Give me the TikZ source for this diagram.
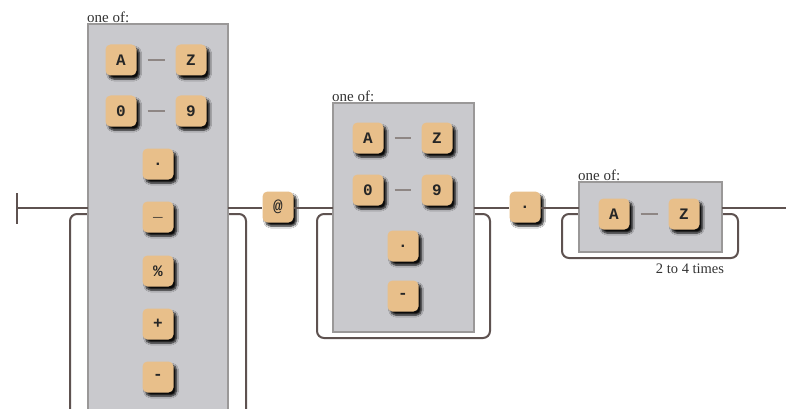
\documentclass[tikz,border=0pt]{standalone}
\usepackage{fontspec}
\setmainfont{Liberation Serif}
\newfontfamily\keyfont{Liberation Mono}
\usetikzlibrary{shadows.blur}
\definecolor{keytan}{HTML}{E8BF8A}
\definecolor{boxgray}{HTML}{C9C9CD}
\definecolor{boxedge}{HTML}{9A9898}
\definecolor{wirec}{HTML}{5E5250}
\begin{document}
\begin{tikzpicture}[x=1pt,y=-1pt,
 key/.style={draw=none, fill=keytan, rounded corners=5pt, minimum width=31pt, minimum height=31pt, inner sep=0pt,
   font=\keyfont\bfseries\fontsize{16}{16}\selectfont, text=black!85,
   blur shadow={shadow xshift=3pt, shadow yshift=-3.5pt, shadow blur steps=6, shadow blur radius=2pt, shadow opacity=95}},
 grp/.style={draw=boxedge, line width=2pt, fill=boxgray},
 wire/.style={draw=wirec, line width=2pt, rounded corners=7pt},
 lbl/.style={font=\fontsize{15}{15}\selectfont, text=black!80, anchor=south west, inner sep=0pt},
 rng/.style={draw=wirec!70, line width=1.8pt, shorten <=11pt, shorten >=10pt}]
\useasboundingbox (0,0) rectangle (786,409);
\clip (0,0) rectangle (786,409);
\fill[white] (0,0) rectangle (786,409);

% coordinates on the main line
\coordinate (start) at (17,208);
\coordinate (g1in) at (88,208);
\coordinate (g1out) at (228,208);
\coordinate (g2in) at (333,208);
\coordinate (g2out) at (474,208);
\coordinate (g3in) at (579,208);
\coordinate (g3out) at (722,208);
\coordinate (finish) at (786,208);

% loops
\draw[wire] (88,214) -| (70,450) -| (246,214) -- (228,214);
\draw[wire] (333,214) -| (317,338) -| (490,214) -- (474,214);
\draw[wire] (579,214) -| (562,258) -| (738,214) -- (722,214);

% group boxes
\draw[grp] (88,24) rectangle (228,430);
\node[lbl] (l1) at (87,23) {one of:};
\draw[grp] (333,103) rectangle (474,332);
\node[lbl] (l2) at (332,102) {one of:};
\draw[grp] (579,182) rectangle (722,252);
\node[lbl] (l3) at (578,181) {one of:};

% start
\draw[wire] (17,193) -- (17,224);
\draw[wire] (start) -- (g1in);

% group 1
\node[key] (a1) at (121,60) {A};
\node[key] (z1) at (191,60) {Z};
\node[key] (n01) at (121,111) {0};
\node[key] (n91) at (191,111) {9};
\node[key] (dot1) at (158,164) {.};
\node[key] (us1) at (158,217) {\_};
\node[key] (pc1) at (158,271) {\%};
\node[key] (pl1) at (158,324) {+};
\node[key] (mi1) at (158,377) {-};
\draw[rng] (a1) -- (z1);
\draw[rng] (n01) -- (n91);

% @
\node[key] (at) at (278,207) {@};
\draw[wire] (g1out) -- (g1out -| at.west);
\draw[wire] (g2in -| at.east) -- (g2in);

% group 2
\node[key] (a2) at (368,138) {A};
\node[key] (z2) at (437,138) {Z};
\node[key] (n02) at (368,190) {0};
\node[key] (n92) at (437,190) {9};
\node[key] (dot2) at (403,246) {.};
\node[key] (mi2) at (403,296) {-};
\draw[rng] (a2) -- (z2);
\draw[rng] (n02) -- (n92);

% dot
\node[key] (dot) at (525,207) {.};
\draw[wire] (g2out) -- (g2out -| dot.west);
\draw[wire] (g3in -| dot.east) -- (g3in);

% group 3
\node[key] (a3) at (614,214) {A};
\node[key] (z3) at (684,214) {Z};
\draw[rng] (a3) -- (z3);
\node[font=\fontsize{14.5}{14.5}\selectfont, text=black!80, inner sep=0pt] (times) at (690,269) {2 to 4 times};

\draw[wire] (g3out) -- (finish);
\end{tikzpicture}
\end{document}
